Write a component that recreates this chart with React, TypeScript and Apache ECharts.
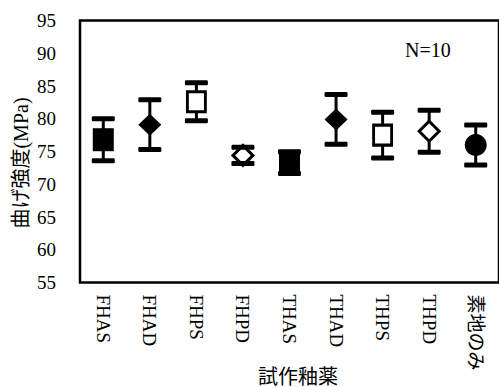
import React, { useEffect, useRef } from 'react';
import * as echarts from 'echarts';

// Glaze samples and their bending strength (mean ± SD, MPa)
const categories = ['FHAS', 'FHAD', 'FHPS', 'FHPD', 'THAS', 'THAD', 'THPS', 'THPD', '素地のみ'];
const means = [76.8, 79.1, 82.6, 74.4, 73.3, 79.9, 77.5, 78.1, 76.0];
const sds = [3.2, 3.8, 2.9, 1.25, 1.65, 3.8, 3.5, 3.2, 3.05];

const yMin = 55;
const yMax = 95;
const yStep = 5;

const yAxisTitle = '曲げ強度(MPa)';
const xAxisTitle = '試作釉薬';
const sampleNote = 'N=10';

// Marker look for each glaze, in category order
const markerStyles = [
  { symbol: 'rect', filled: true, size: [21, 23] },
  { symbol: 'diamond', filled: true, size: [23, 22] },
  { symbol: 'rect', filled: false, size: [18, 20] },
  { symbol: 'diamond', filled: false, size: [20, 20] },
  { symbol: 'rect', filled: true, size: [21, 23] },
  { symbol: 'diamond', filled: true, size: [23, 22] },
  { symbol: 'rect', filled: false, size: [18, 20] },
  { symbol: 'diamond', filled: false, size: [20, 20] },
  { symbol: 'circle', filled: true, size: [22, 22] },
];

const SERIF = 'Liberation Serif, Noto Sans CJK JP, serif';

export default function App() {
  const ref = useRef<HTMLDivElement>(null);

  useEffect(() => {
    if (!ref.current) return;
    const chart = echarts.init(ref.current, null, { renderer: 'svg' });

    const errData = categories.map((_, i) => [i, means[i] - sds[i], means[i] + sds[i]]);

    const option: any = {
      animation: false,
      backgroundColor: '#fff',
      textStyle: { fontFamily: SERIF },
      grid: {
        left: 80,
        top: 20.5,
        width: 422,
        height: 262,
        show: true,
        borderColor: '#000',
        borderWidth: 2.5,
        backgroundColor: 'transparent',
      },
      xAxis: {
        type: 'category',
        data: categories,
        boundaryGap: true,
        axisLine: { show: false },
        axisTick: { show: false },
        splitLine: { show: false },
        axisLabel: {
          rotate: -90,
          margin: 12,
          color: '#000',
          fontSize: 19,
          fontFamily: SERIF,
          interval: 0,
        },
      },
      yAxis: {
        type: 'value',
        min: yMin,
        max: yMax,
        interval: yStep,
        axisLine: { show: false },
        axisTick: { show: false },
        splitLine: { show: false },
        axisLabel: {
          margin: 24,
          color: '#000',
          fontSize: 19,
          fontFamily: SERIF,
        },
      },
      series: [
        {
          // error bar stems, under the markers
          type: 'custom',
          z: 1,
          data: errData,
          encode: { x: 0, y: [1, 2] },
          renderItem: (params: any, api: any) => {
            const x = api.value(0);
            const lo = api.coord([x, api.value(1)]);
            const hi = api.coord([x, api.value(2)]);
            return {
              type: 'line',
              shape: { x1: lo[0], y1: lo[1], x2: hi[0], y2: hi[1] },
              style: { stroke: '#000', lineWidth: 3 },
            };
          },
        },
        {
          type: 'scatter',
          z: 2,
          data: means.map((m, i) => {
            const st = markerStyles[i];
            return {
              value: [i, m],
              symbol: st.symbol,
              symbolSize: st.size,
              itemStyle: {
                color: st.filled ? '#000' : '#fff',
                borderColor: '#000',
                borderWidth: st.filled ? 0 : 3,
                opacity: 1,
              },
            };
          }),
        },
        {
          // error bar caps, drawn over the markers
          type: 'custom',
          z: 3,
          data: errData,
          encode: { x: 0, y: [1, 2] },
          renderItem: (params: any, api: any) => {
            const x = api.value(0);
            const lo = api.coord([x, api.value(1)]);
            const hi = api.coord([x, api.value(2)]);
            const w = 23;
            const h = 5;
            return {
              type: 'group',
              children: [lo, hi].map((p) => ({
                type: 'rect',
                shape: { x: p[0] - w / 2, y: p[1] - h / 2, width: w, height: h, r: 1.2 },
                style: { fill: '#000' },
              })),
            };
          },
        },
      ],
      graphic: [
        {
          type: 'text',
          x: 21,
          y: 163,
          rotation: Math.PI / 2,
          style: {
            text: yAxisTitle,
            fontSize: 20,
            fontFamily: SERIF,
            fill: '#000',
            align: 'center',
            verticalAlign: 'middle',
          },
        },
        {
          type: 'text',
          x: 298,
          y: 377,
          style: {
            text: xAxisTitle,
            fontSize: 20,
            fontFamily: SERIF,
            fill: '#000',
            align: 'center',
            verticalAlign: 'middle',
          },
        },
        {
          type: 'text',
          x: 405,
          y: 50,
          style: {
            text: sampleNote,
            fontSize: 20,
            fontFamily: SERIF,
            fill: '#000',
            align: 'left',
            verticalAlign: 'middle',
          },
        },
      ],
    };

    chart.setOption(option);
    return () => chart.dispose();
  }, []);

  return (
    <div
      ref={ref}
      style={{ position: 'fixed', left: 0, top: 0, width: 499, height: 387, background: '#fff' }}
    />
  );
}
